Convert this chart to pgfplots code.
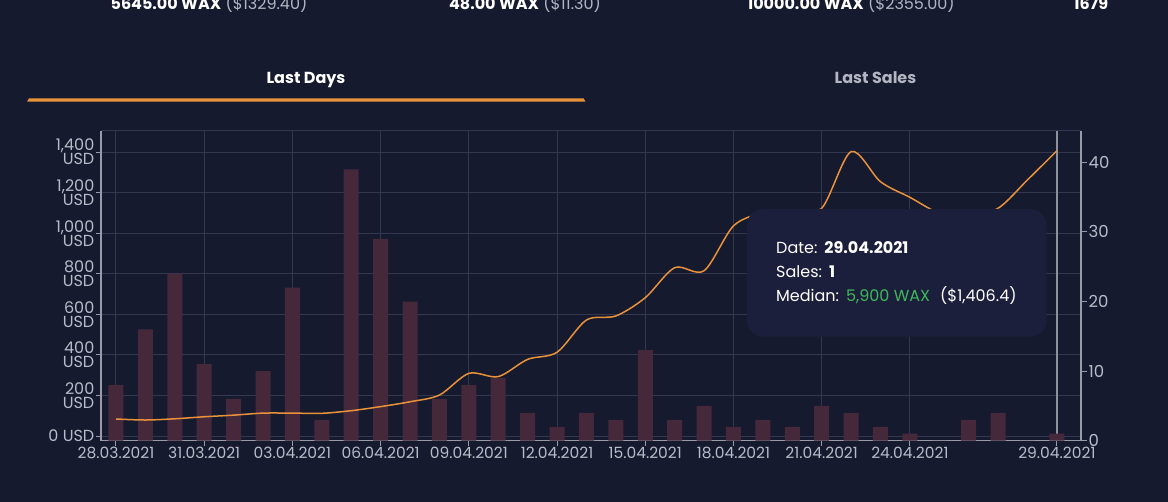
\documentclass[border=0pt]{standalone}
\usepackage{pgfplots}
\pgfplotsset{compat=1.18}
\usepackage{fontspec}
\setmainfont{Poppins}
\definecolor{bg}{HTML}{151A2E}
\definecolor{gridc}{HTML}{33374F}
\definecolor{spine}{HTML}{9A9BA8}
\definecolor{tickc}{HTML}{B8BBC8}
\definecolor{barc}{HTML}{46283B}
\definecolor{linec}{HTML}{E9923A}
\definecolor{cursorc}{HTML}{8E909E}
\definecolor{tipc}{HTML}{1C1F3B}
\definecolor{greenc}{HTML}{3DB95A}
\definecolor{dimtxt}{HTML}{B3B6C2}
\newcommand\fs[1]{\fontsize{#1}{13}\selectfont}
\pgfplotstableread{
day sales
0 8
1 16
2 24
3 11
4 6
5 10
6 22
7 3
8 39
9 29
10 20
11 6
12 8
13 9
14 4
15 2
16 4
17 3
18 13
19 3
20 5
21 2
22 3
23 2
24 5
25 4
26 2
27 1
28 0
29 3
30 4
31 0
32 1
}\salestable
\pgfplotstableread{
day usd
0 84
1 79
2 85
3 95
4 103
5 113
6 113
7 112
8 125
9 145
10 169
11 202
12 309
13 293
14 378
15 413
16 572
17 592
18 682
19 830
20 815
21 1036
22 1100
23 1115
24 1123
25 1402
26 1254
27 1177
28 1100
29 1090
30 1123
31 1263
32 1406.4
}\mediantable
\begin{document}
\begin{tikzpicture}
\path[use as bounding box] (0,0) rectangle (1168pt,-502pt);
\fill[bg] (-2pt,2pt) rectangle (1170pt,-504pt);
% top summary strip (cut at the top)
\node[anchor=base, font=\fs{16}, white] at (209pt,-9.5pt) {\textbf{5645.00 WAX} {\color{dimtxt}(\$1329.40)}};
\node[anchor=base, font=\fs{16}, white] at (525pt,-9.5pt) {\textbf{48.00 WAX} {\color{dimtxt}(\$11.30)}};
\node[anchor=base, font=\fs{16}, white] at (851pt,-9.5pt) {\textbf{10000.00 WAX} {\color{dimtxt}(\$2355.00)}};
\node[anchor=base, font=\fs{16}, white] at (1091pt,-9.5pt) {\textbf{1679}};
% tabs
\node[anchor=base, font=\bfseries\fs{16}, white] at (306pt,-84pt) {Last Days};
\node[anchor=base, font=\bfseries\fs{16}, dimtxt] at (875.5pt,-84pt) {Last Sales};
\fill[linec] (27pt,-101.7pt) -- (585.5pt,-101.7pt) -- (583.5pt,-98.3pt) -- (29pt,-98.3pt) -- cycle;
% axis A: grid, left axis, cursor
\begin{axis}[at={(101pt,-440.7pt)}, anchor=south west, width=980pt, height=309.7pt, scale only axis,
  xmin=-0.51, xmax=32.82, ymin=-23, ymax=1504,
  axis x line*=bottom, axis y line*=left, axis line style={-, draw=spine, line width=1.4pt},
  xtick={0,3,...,27,32},
  xticklabels={28.03.2021,31.03.2021,03.04.2021,06.04.2021,09.04.2021,12.04.2021,15.04.2021,18.04.2021,21.04.2021,24.04.2021,29.04.2021},
  ytick={0,200,...,1400},
  yticklabels={0 USD,{200\\USD},{400\\USD},{600\\USD},{800\\USD},{1,000\\USD},{1,200\\USD},{1,400\\USD}},
  tick align=outside, major tick length=5pt, tick style={draw=spine, line width=1pt},
  xmajorgrids, ymajorgrids, major grid style={draw=gridc, line width=1pt},
  xticklabel style={font=\fs{15.5}, text=tickc, inner sep=1pt},
  yticklabel style={font=\fontsize{16}{14}\selectfont, text=tickc, align=right, inner sep=1.5pt},
]
\draw[gridc, line width=1pt] (rel axis cs:0,1) -- (rel axis cs:1,1);
\draw[cursorc, line width=1.5pt] (axis cs:32,-23) -- (axis cs:32,1504);
\end{axis}
% axis B: bars, right axis
\begin{axis}[at={(101pt,-440.7pt)}, anchor=south west, width=980pt, height=309.7pt, scale only axis,
  xmin=-0.51, xmax=32.82, ymin=0, ymax=44.5,
  axis x line=none, axis y line*=right, axis line style={-, draw=spine, line width=1.4pt},
  ytick={0,10,...,40},
  tick align=outside, major tick length=6pt, tick style={draw=spine, line width=1pt},
  ticklabel style={font=\fs{16.5}, text=tickc, inner sep=1.5pt},
  /pgf/number format/assume math mode=true,
]
\addplot[ybar, bar width=15pt, fill=barc, draw=none] table[x=day, y=sales] {\salestable};
\end{axis}
% axis C: median line
\begin{axis}[at={(101pt,-440.7pt)}, anchor=south west, width=980pt, height=309.7pt, scale only axis,
  xmin=-0.51, xmax=32.82, ymin=-23, ymax=1504, hide axis]
\addplot[smooth, linec, line width=1.5pt, no marks] table[x=day, y=usd] {\mediantable};
\end{axis}
% tooltip
\fill[tipc, rounded corners=17pt] (746.7pt,-209pt) rectangle (1046.7pt,-336.7pt);
\node[anchor=base west, font=\fs{16}, white, inner sep=0pt] at (776pt,-254pt) {Date:\hspace{7pt}\textbf{29.04.2021}};
\node[anchor=base west, font=\fs{16}, white, inner sep=0pt] at (776pt,-278pt) {Sales:\hspace{7pt}\textbf{1}};
\node[anchor=base west, font=\fs{16}, white, inner sep=0pt] at (776pt,-302pt) {Median:\hspace{7pt}{\color{greenc}5,900 WAX}\hspace{10pt}(\$1,406.4)};
\end{tikzpicture}
\end{document}
